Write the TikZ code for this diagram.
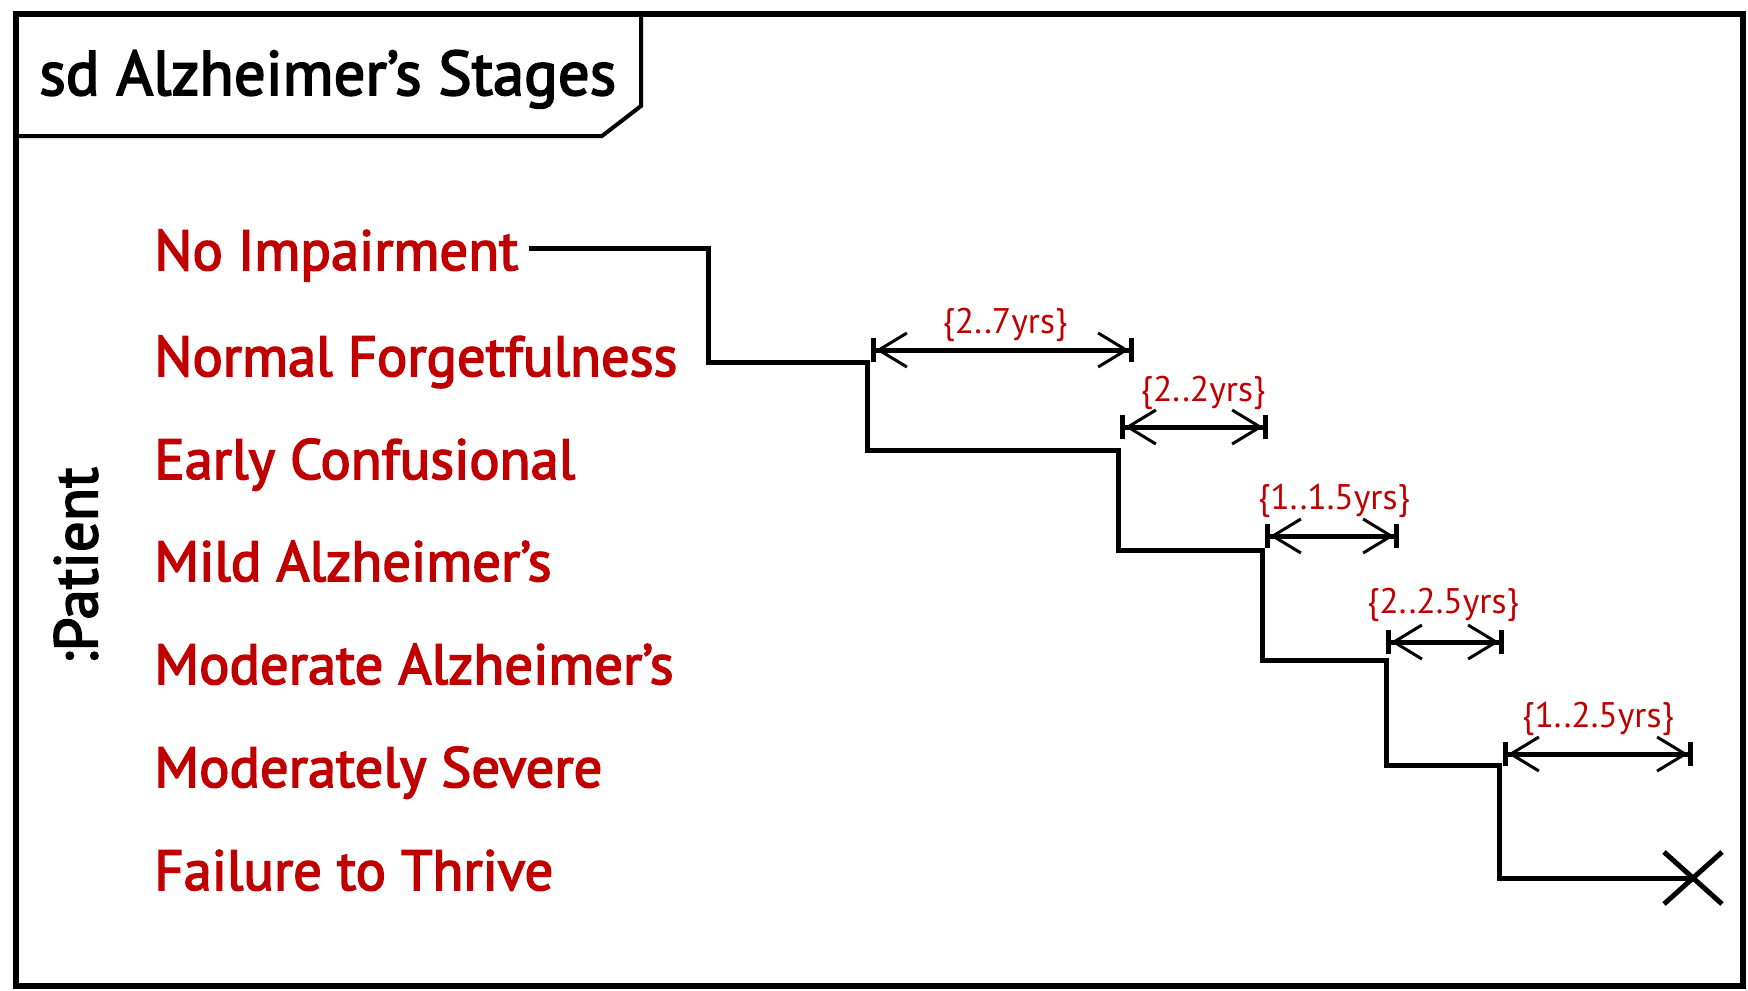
\documentclass[tikz,border=0pt]{standalone}
\usepackage{fontspec}
\setmainfont{PT Sans}
\newfontfamily\heavy[FakeBold=2.8]{PT Sans}
\usetikzlibrary{arrows.meta}
\definecolor{lab}{RGB}{192,0,0}
\begin{document}
\begin{tikzpicture}[x=0.5pt,y=-0.5pt,
  stage/.style={anchor=base west, inner sep=0pt, text=lab, font=\heavy\fontsize{28.3}{30}\selectfont},
  dur/.style={inner sep=0pt, text=lab, font=\fontsize{17.8}{19}\selectfont},
  life/.style={line width=2.5pt, line join=miter},
  spanarrow/.style={line width=2.5pt, {Bar[width=12pt,sep=0pt,line width=2.5pt]Straight Barb[length=14pt,width=17pt,line width=1.5pt]}-{Straight Barb[length=14pt,width=17pt,line width=1.5pt]Bar[width=12pt,sep=0pt,line width=2.5pt]}}
]
\useasboundingbox (0,0) rectangle (1748,990);
\draw[line width=3pt] (16,14) rectangle (1743,986);
\draw[line width=2pt] (16,14) -- (641,14) -- (641,106) -- (602,136) -- (16,136);
\node[anchor=base west, inner sep=0pt, font=\heavy\fontsize{31.4}{33}\selectfont] (title) at (39,95) {sd Alzheimer’s Stages};
\node[rotate=90, inner sep=0pt, font=\heavy\fontsize{30.5}{32}\selectfont] (patient) at (76,566) {:Patient};

\node[stage] (s1) at (154,270) {No Impairment};
\node[stage] (s2) at (154,376) {Normal Forgetfulness};
\node[stage] (s3) at (154,479) {Early Confusional};
\node[stage] (s4) at (154,581) {Mild Alzheimer’s};
\node[stage] (s5) at (154,684) {Moderate Alzheimer’s};
\node[stage] (s6) at (154,787) {Moderately Severe};
\node[stage] (s7) at (154,890) {Failure to Thrive};

\coordinate (p0) at (529,248);
\coordinate (p1) at (708,248);
\coordinate (p2) at (708,362);
\coordinate (p3) at (867,362);
\coordinate (p4) at (867,450);
\coordinate (p5) at (1118,450);
\coordinate (p6) at (1118,550);
\coordinate (p7) at (1262,550);
\coordinate (p8) at (1262,660);
\coordinate (p9) at (1386,660);
\coordinate (p10) at (1386,765);
\coordinate (p11) at (1499,765);
\coordinate (p12) at (1499,878);
\coordinate (xend) at (1693,878);
\draw[life] (p0) -- (p1) -- (p2) -- (p3) -- (p4) -- (p5) -- (p6) -- (p7) -- (p8) -- (p9) -- (p10) -- (p11) -- (p12) -- (xend);
\draw[life] ([shift={(-29,-26)}]xend) -- ([shift={(29,26)}]xend);
\draw[life] ([shift={(-29,26)}]xend) -- ([shift={(29,-26)}]xend);

\coordinate (a1s) at (871,350); \coordinate (a1e) at (1134,350);
\coordinate (a2s) at (1120,427); \coordinate (a2e) at (1268,427);
\coordinate (a3s) at (1265,536); \coordinate (a3e) at (1399,536);
\coordinate (a4s) at (1386,642); \coordinate (a4e) at (1504,642);
\coordinate (a5s) at (1503,754); \coordinate (a5e) at (1693,754);
\draw[spanarrow] (a1s) -- (a1e);
\draw[spanarrow] (a2s) -- (a2e);
\draw[spanarrow] (a3s) -- (a3e);
\draw[spanarrow] (a4s) -- (a4e);
\draw[spanarrow] (a5s) -- (a5e);
\node[dur] (d1) at (1005,325) {\{2..7yrs\}};
\node[dur] (d2) at (1203,393) {\{2..2yrs\}};
\node[dur] (d3) at (1334,501) {\{1..1.5yrs\}};
\node[dur] (d4) at (1443,605) {\{2..2.5yrs\}};
\node[dur] (d5) at (1598,719) {\{1..2.5yrs\}};
\end{tikzpicture}
\end{document}
